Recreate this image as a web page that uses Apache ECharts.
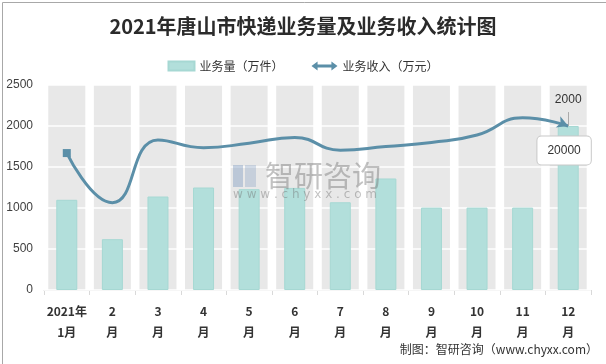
<!DOCTYPE html>
<html><head><meta charset="utf-8">
<script src="https://cdn.jsdelivr.net/npm/echarts@6/dist/echarts.min.js"></script>
<style>html,body{margin:0;padding:0;background:#fff}#c{width:606px;height:364px}</style>
</head><body><div id="c"></div>
<script>
var categories = ['2021年\n1月','2\n月','3\n月','4\n月','5\n月','6\n月','7\n月','8\n月','9\n月','10\n月','11\n月','12\n月'];
var volume = [1100, 620, 1140, 1250, 1230, 1245, 1070, 1360, 1005, 1005, 1005, 2000];
var revenue = [16700, 10650, 18300, 17350, 17900, 18600, 17050, 17500, 18000, 18900, 21000, 20000];
var yTicks = [0, 500, 1000, 1500, 2000, 2500];
var backgroundValue = 2500;
var leaderTop = 2170;

var chart = echarts.init(document.getElementById('c'));
var last = volume.length - 1;
var volData = volume.map(function (v, i) {
  if (i === last) return {value: v, label: {show: true, position: 'top', distance: 20, color: '#333', fontSize: 12}};
  return v;
});
var revData = revenue.map(function (v, i) {
  if (i === 0) return {value: v, symbol: 'rect', symbolSize: 8};
  if (i === last) return {value: v, symbol: 'arrow', symbolSize: [9, 11], symbolRotate: -112,
    label: {show: true, position: 'bottom', distance: 5, color: '#333', fontSize: 12,
      backgroundColor: '#fff', borderColor: '#c8c8c8', borderWidth: 1, borderRadius: 4,
      padding: [8, 10], offset: [1, 0], formatter: '{c}'}};
  return {value: v, symbol: 'none'};
});
var bgData = categories.map(function () { return backgroundValue; });
var wm = 'rgba(110,110,110,0.42)';

chart.setOption({
  animation: false,
  title: {text: '2021年唐山市快递业务量及业务收入统计图', left: 'center', top: 11,
    textStyle: {fontSize: 20, fontWeight: 'bold', color: '#2b2b2b', fontFamily: 'Noto Sans CJK SC'}},
  legend: {top: 55, left: 'center', itemGap: 28, symbolKeepAspect: false,
    textStyle: {fontSize: 12, color: '#333', fontFamily: 'Noto Sans CJK SC'},
    data: [
      {name: '业务量（万件）', icon: 'rect', itemStyle: {color: '#b2dfdb'}},
      {name: '业务收入（万元）', icon: 'path://M0,5 L7,0 L7,3.3 L23,3.3 L23,0 L30,5 L23,10 L23,6.7 L7,6.7 L7,10 Z', itemStyle: {color: '#5b8fa8'}}
    ],
    itemWidth: 26, itemHeight: 9},
  grid: {left: 44, right: 15, top: 85, bottom: 74},
  xAxis: [
    {type: 'category', data: categories, axisLine: {lineStyle: {color: '#d9d9d9'}},
      axisTick: {show: true, length: 5, lineStyle: {color: '#d9d9d9'}},
      axisLabel: {interval: 0, color: '#333', fontSize: 12, fontWeight: 'bold', lineHeight: 21, margin: 11,
        fontFamily: 'Noto Sans CJK SC'}},
    {type: 'category', data: categories, show: false}
  ],
  yAxis: [
    {type: 'value', min: yTicks[0], max: yTicks[yTicks.length - 1], interval: 500, z: 1,
      axisLine: {show: false}, axisTick: {show: false},
      axisLabel: {color: '#404040', fontSize: 12, margin: 11, fontFamily: 'Liberation Sans',
        formatter: function (v) { return String(v); }},
      splitLine: {lineStyle: {color: '#ffffff', width: 1.5}}},
    {type: 'value', min: 0, max: 25000, show: false, splitLine: {show: false}}
  ],
  series: [
    {name: 'bg', type: 'bar', xAxisIndex: 1, yAxisIndex: 0, data: bgData, barWidth: 37, silent: true, z: 0,
      itemStyle: {color: '#e8e8e8'}},
    {name: '业务量（万件）', type: 'bar', xAxisIndex: 0, yAxisIndex: 0, data: volData, barWidth: 21, z: 2,
      itemStyle: {color: '#b2dfdb', borderColor: '#a6d8d3', borderWidth: 1},
      markLine: {silent: true, symbol: 'none', label: {show: false}, lineStyle: {color: '#aaa', width: 1, type: 'solid'},
        data: [[{coord: [last, volume[last]]}, {coord: [last, leaderTop]}]]}},
    {name: '业务收入（万元）', type: 'line', yAxisIndex: 1, data: revData, smooth: 0.5, z: 3,
      showSymbol: true, symbol: 'none',
      lineStyle: {color: '#5b8fa8', width: 3}, itemStyle: {color: '#5b8fa8'}}
  ],
  graphic: [
    {type: 'rect', left: 0, top: 0, z: 100, shape: {width: 605, height: 363}, style: {fill: 'none', stroke: '#a8a8a8', lineWidth: 1}},
    {type: 'rect', left: 233, top: 165, z: 50, shape: {width: 10, height: 22}, style: {fill: 'rgba(120,150,190,0.4)'}},
    {type: 'rect', left: 245, top: 165, z: 50, shape: {width: 11, height: 22}, style: {fill: 'rgba(120,150,190,0.3)'}},
    {type: 'text', left: 265, top: 161, z: 50, style: {text: '智研咨询', fontSize: 29, fill: wm, fontFamily: 'Noto Sans CJK SC'}},
    {type: 'text', left: 233, top: 189, z: 50, style: {text: 'w w w . c h y x x . c o m', fontSize: 12, fill: wm, fontFamily: 'DejaVu Sans'}},
    {type: 'text', right: 8, top: 343, z: 100, style: {text: '制图：智研咨询（www.chyxx.com）', fontSize: 12, fill: '#333', fontFamily: 'Noto Sans CJK SC'}}
  ]
});
</script></body></html>
